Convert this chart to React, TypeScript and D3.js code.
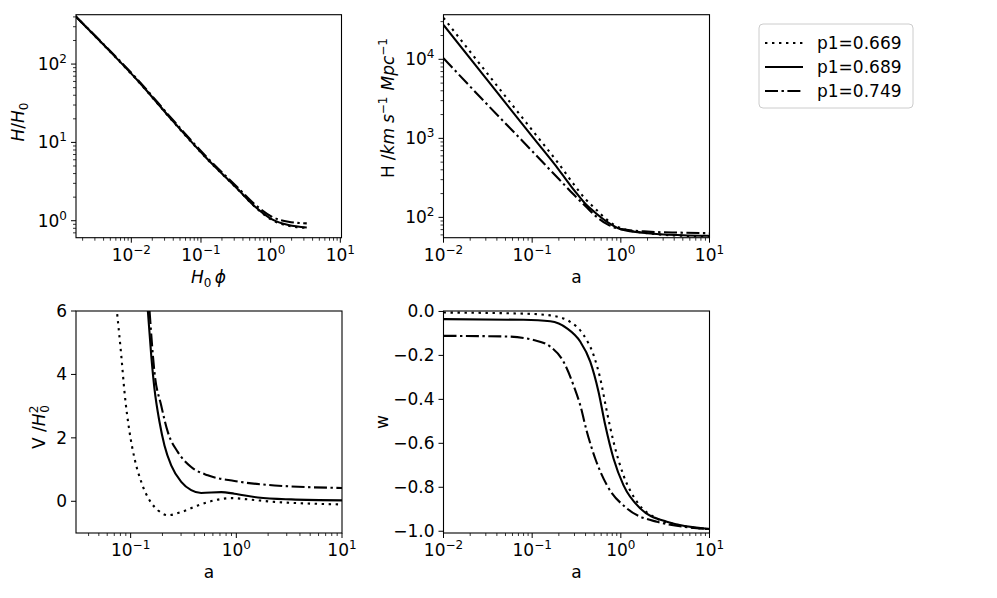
import * as d3 from "d3";

const FONT = "DejaVu Sans, Verdana, sans-serif";
const FS = 17;

// legend entries (p1 values) and their line styles
const p1Labels = ["p1=0.669", "p1=0.689", "p1=0.749"];
const dashes = ["2.4,4.6", "none", "13,3.5,2.4,3.5"];

// top-left: H/H0 against H0*phi
const tlPhi = [0.00157, 0.00474, 0.0128, 0.0384, 0.115, 0.347, 0.6, 1.05, 1.8, 3.3];
const tlDotted = [410, 150, 59, 19.1, 6.5, 2.45, 1.49, 1.02, 0.86, 0.81];
const tlSolid = [410, 151, 59.6, 19.3, 6.56, 2.47, 1.51, 1.04, 0.88, 0.82];
const tlDashdot = [410, 154, 61, 19.9, 6.8, 2.58, 1.6, 1.12, 0.97, 0.925];

// top-right: H [km/s/Mpc] against a
const trA = [0.01, 0.03, 0.1, 0.2, 0.3, 0.4, 0.5, 0.7, 1.0, 2.0, 5.0, 10];
const trDotted = [33500, 7000, 1270, 475, 255, 170, 133, 93, 73, 63, 58.5, 57.5];
const trSolid = [27200, 5770, 1057, 400, 218, 148, 118, 88, 71, 63, 59.5, 58.5];
const trDashdot = [10300, 2800, 690, 305, 190, 138, 108, 82, 71, 66, 64, 63];

// bottom-left: V/H0^2 against a
const blDottedA = [0.0746, 0.0815, 0.0875, 0.0977, 0.109, 0.126, 0.151, 0.181, 0.225, 0.301, 0.432, 0.622, 0.895, 1.29, 2.3, 4.74, 10];
const blDotted = [5.9, 4.6, 3.44, 2.18, 1.34, 0.61, 0.03, -0.28, -0.44, -0.34, -0.13, 0.03, 0.1, 0.06, -0.02, -0.07, -0.1];
const blSolidA = [0.1455, 0.1566, 0.168, 0.1876, 0.209, 0.242, 0.301, 0.374, 0.465, 0.72, 0.96, 1.6, 3.3, 10];
const blSolid = [6.0, 4.6, 3.55, 2.5, 1.76, 1.13, 0.61, 0.35, 0.26, 0.29, 0.24, 0.12, 0.06, 0.03];
const blDashA = [0.151, 0.168, 0.1946, 0.225, 0.28, 0.374, 0.537, 0.96, 2.3, 10];
const blDash = [6.0, 4.07, 3.02, 2.18, 1.55, 1.08, 0.82, 0.64, 0.5, 0.42];
const blTicks = [0, 2, 4, 6];

// bottom-right: w against a
const brDottedA = [0.01, 0.08, 0.16, 0.268, 0.38, 0.492, 0.585, 0.696, 0.827, 1.07, 1.52, 2.55, 4.68, 10];
const brDotted = [-0.005, -0.01, -0.018, -0.047, -0.107, -0.198, -0.304, -0.456, -0.593, -0.745, -0.866, -0.942, -0.973, -0.991];
const brSolidA = [0.01, 0.08, 0.16, 0.247, 0.348, 0.452, 0.56, 0.667, 0.827, 1.07, 1.65, 3.3, 10];
const brSolid = [-0.035, -0.038, -0.045, -0.077, -0.137, -0.228, -0.365, -0.517, -0.669, -0.79, -0.896, -0.957, -0.99];
const brDashA = [0.01, 0.0519, 0.1035, 0.16, 0.225, 0.292, 0.348, 0.414, 0.514, 0.696, 1.17, 2.55, 10];
const brDash = [-0.111, -0.114, -0.13, -0.16, -0.228, -0.335, -0.426, -0.547, -0.669, -0.79, -0.896, -0.957, -0.99];
const brTicks = [0, -0.2, -0.4, -0.6, -0.8, -1.0];

function logTicks(domain: number[]) {
  const lo = Math.floor(Math.log10(domain[0]));
  const hi = Math.ceil(Math.log10(domain[1]));
  const major: number[] = [];
  const minor: number[] = [];
  for (let e = lo; e <= hi; e++) {
    for (let m = 1; m < 10; m++) {
      const v = m * Math.pow(10, e);
      if (v < domain[0] * 0.999 || v > domain[1] * 1.001) continue;
      (m === 1 ? major : minor).push(v);
    }
  }
  return { major, minor };
}

function Pow({ v }) {
  const e = Math.round(Math.log10(v));
  const s = e < 0 ? "\u2212" + Math.abs(e) : String(e);
  return (
    <>
      10<tspan dy={-7} fontSize={12}>{s}</tspan>
    </>
  );
}

function Panel({ id, box, xDomain, yDomain, yLog, yLinTicks, yFmt, series }) {
  const { x0, x1, y0, y1 } = box;
  const x = d3.scaleLog().domain(xDomain).range([x0, x1]);
  const y = (yLog ? d3.scaleLog() : d3.scaleLinear()).domain(yDomain).range([y1, y0]);
  const xt = logTicks(xDomain);
  const yt = yLog ? logTicks(yDomain) : { major: yLinTicks, minor: [] };
  const line = d3
    .line<number[]>()
    .x((d) => x(d[0]))
    .y((d) => y(d[1]))
    .curve(d3.curveMonotoneX);

  return (
    <g>
      <defs>
        <clipPath id={id}>
          <rect x={x0} y={y0} width={x1 - x0} height={y1 - y0} />
        </clipPath>
      </defs>
      <g clipPath={`url(#${id})`}>
        {series.map((s, i) => (
          <path
            key={i}
            d={line(s.xs.map((v, j) => [v, s.ys[j]]))}
            fill="none"
            stroke="#000"
            strokeWidth={2.1}
            strokeDasharray={dashes[i]}
          />
        ))}
      </g>
      <rect x={x0} y={y0} width={x1 - x0} height={y1 - y0} fill="none" stroke="#000" strokeWidth={1.1} />
      {xt.minor.map((v) => (
        <line key={"xm" + v} x1={x(v)} x2={x(v)} y1={y1} y2={y1 + 3} stroke="#000" strokeWidth={0.8} />
      ))}
      {xt.major.map((v) => (
        <g key={"xM" + v}>
          <line x1={x(v)} x2={x(v)} y1={y1} y2={y1 + 5} stroke="#000" strokeWidth={1} />
          <text x={x(v)} y={y1 + 23} textAnchor="middle" fontSize={FS}>
            <Pow v={v} />
          </text>
        </g>
      ))}
      {yt.minor.map((v) => (
        <line key={"ym" + v} x1={x0 - 3} x2={x0} y1={y(v)} y2={y(v)} stroke="#000" strokeWidth={0.8} />
      ))}
      {yt.major.map((v) => (
        <g key={"yM" + v}>
          <line x1={x0 - 5} x2={x0} y1={y(v)} y2={y(v)} stroke="#000" strokeWidth={1} />
          <text x={x0 - 9} y={y(v) + 6} textAnchor="end" fontSize={FS}>
            {yLog ? <Pow v={v} /> : yFmt(v)}
          </text>
        </g>
      ))}
    </g>
  );
}

const minus = (s: string) => s.replace("-", "\u2212");

export default function App() {
  const tl = { x0: 76, x1: 341.5, y0: 14.7, y1: 237.7 };
  const tr = { x0: 443.5, x1: 709.5, y0: 14.7, y1: 237.7 };
  const bl = { x0: 76, x1: 342, y0: 311, y1: 533 };
  const br = { x0: 443.5, x1: 709.5, y0: 311, y1: 533 };
  const it = { fontStyle: "italic" };

  return (
    <svg
      width={997}
      height={598}
      style={{ position: "absolute", left: 0, top: 0, background: "#fff" }}
      fontFamily={FONT}
    >
      <Panel
        id="c-tl"
        box={tl}
        xDomain={[0.001607, 10.4]}
        yDomain={[0.607, 427]}
        yLog
        series={[
          { xs: tlPhi, ys: tlDotted },
          { xs: tlPhi, ys: tlSolid },
          { xs: tlPhi, ys: tlDashdot },
        ]}
      />
      <Panel
        id="c-tr"
        box={tr}
        xDomain={[0.01, 10]}
        yDomain={[55.3, 36700]}
        yLog
        series={[
          { xs: trA, ys: trDotted },
          { xs: trA, ys: trSolid },
          { xs: trA, ys: trDashdot },
        ]}
      />
      <Panel
        id="c-bl"
        box={bl}
        xDomain={[0.0304, 10]}
        yDomain={[-1, 6]}
        yLinTicks={blTicks}
        yFmt={(v) => minus(d3.format("d")(v))}
        series={[
          { xs: blDottedA, ys: blDotted },
          { xs: blSolidA, ys: blSolid },
          { xs: blDashA, ys: blDash },
        ]}
      />
      <Panel
        id="c-br"
        box={br}
        xDomain={[0.01, 10]}
        yDomain={[-1.008, 0.002]}
        yLinTicks={brTicks}
        yFmt={(v) => minus(v.toFixed(1))}
        series={[
          { xs: brDottedA, ys: brDotted },
          { xs: brSolidA, ys: brSolid },
          { xs: brDashA, ys: brDash },
        ]}
      />

      {/* axis labels */}
      <text x={208.5} y={283} textAnchor="middle" fontSize={FS}>
        <tspan {...it}>H</tspan>
        <tspan dy={4} fontSize={12}>0</tspan>
        <tspan dy={-4}>{"\u2009"}</tspan>
        <tspan {...it}>{"\u03d5"}</tspan>
      </text>
      <text x={576.5} y={283} textAnchor="middle" fontSize={FS}>a</text>
      <text x={209} y={578} textAnchor="middle" fontSize={FS}>a</text>
      <text x={576.5} y={578} textAnchor="middle" fontSize={FS}>a</text>

      <text transform="translate(24,122) rotate(-90)" textAnchor="middle" fontSize={FS}>
        <tspan {...it}>H</tspan>/<tspan {...it}>H</tspan>
        <tspan dy={4} fontSize={12}>0</tspan>
      </text>
      <text transform="translate(394,108) rotate(-90)" textAnchor="middle" fontSize={FS}>
        H<tspan dx={5}>/</tspan>
        <tspan {...it}>km</tspan>
        <tspan {...it} dx={5}>s</tspan>
        <tspan dy={-7} fontSize={12}>{"\u22121"}</tspan>
        <tspan dy={7} dx={6} {...it}>Mpc</tspan>
        <tspan dy={-7} fontSize={12}>{"\u22121"}</tspan>
      </text>
      <text transform="translate(45,427) rotate(-90)" textAnchor="middle" fontSize={FS}>
        V /<tspan {...it}>H</tspan>
        <tspan dy={-7} fontSize={12}>2</tspan>
        <tspan dx={-7} dy={11} fontSize={12}>0</tspan>
      </text>
      <text transform="translate(388,422) rotate(-90)" textAnchor="middle" fontSize={FS}>w</text>

      {/* legend */}
      <rect x={759} y={24} width={154} height={84} rx={4} fill="#fff" fillOpacity={0.8} stroke="#cccccc" strokeWidth={1} />
      {p1Labels.map((lab, i) => (
        <g key={lab}>
          <line x1={765} x2={803} y1={43 + i * 24} y2={43 + i * 24} stroke="#000" strokeWidth={2.1} strokeDasharray={dashes[i]} />
          <text x={817} y={49 + i * 24} fontSize={FS}>{lab}</text>
        </g>
      ))}
    </svg>
  );
}
